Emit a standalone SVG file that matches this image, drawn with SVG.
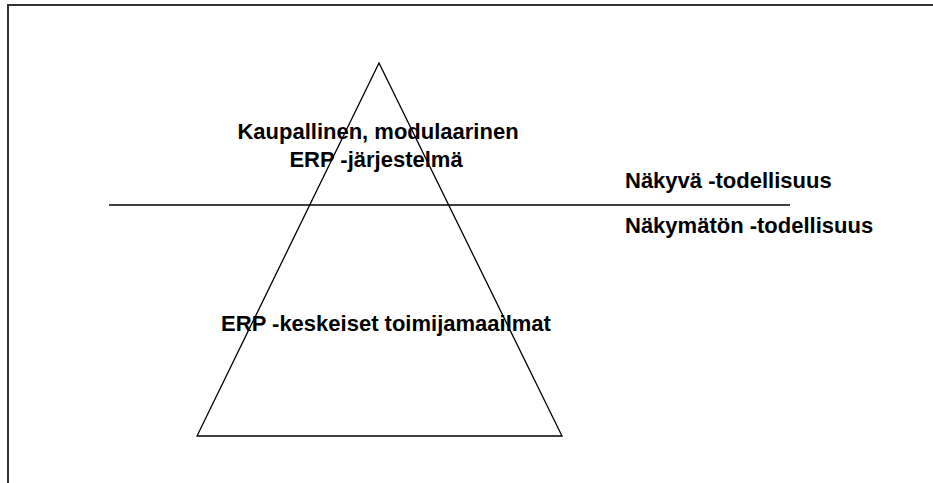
<svg xmlns="http://www.w3.org/2000/svg" width="933" height="483" viewBox="0 0 933 483">
  <style>
    .frame { stroke: #333; stroke-width: 2; fill: none; }
    .line { stroke: #000; stroke-width: 1.3; fill: none; }
    .lbl { font-family: "Liberation Sans", Arial, sans-serif; font-weight: bold; font-size: 22px; fill: #000; }
  </style>
  <rect width="933" height="483" fill="#fff"/>
  <!-- page frame: top and left edges -->
  <path class="frame" d="M8,483 V5 H933"/>
  <!-- waterline -->
  <g id="waterline">
    <line class="line" x1="109" y1="205" x2="790" y2="205"/>
  </g>
  <!-- iceberg triangle -->
  <g id="pyramid">
    <polygon class="line" points="379,63 197,436 562,436"/>
  </g>
  <g id="top-label">
    <text class="lbl" x="378" y="139" text-anchor="middle">Kaupallinen, modulaarinen</text>
    <text class="lbl" x="376" y="167" text-anchor="middle">ERP -järjestelmä</text>
  </g>
  <g id="bottom-label">
    <text class="lbl" x="386" y="331" text-anchor="middle">ERP -keskeiset toimijamaailmat</text>
  </g>
  <g id="visible">
    <text class="lbl" x="625" y="188">Näkyvä -todellisuus</text>
  </g>
  <g id="invisible">
    <text class="lbl" x="625" y="233">Näkymätön -todellisuus</text>
  </g>
</svg>
